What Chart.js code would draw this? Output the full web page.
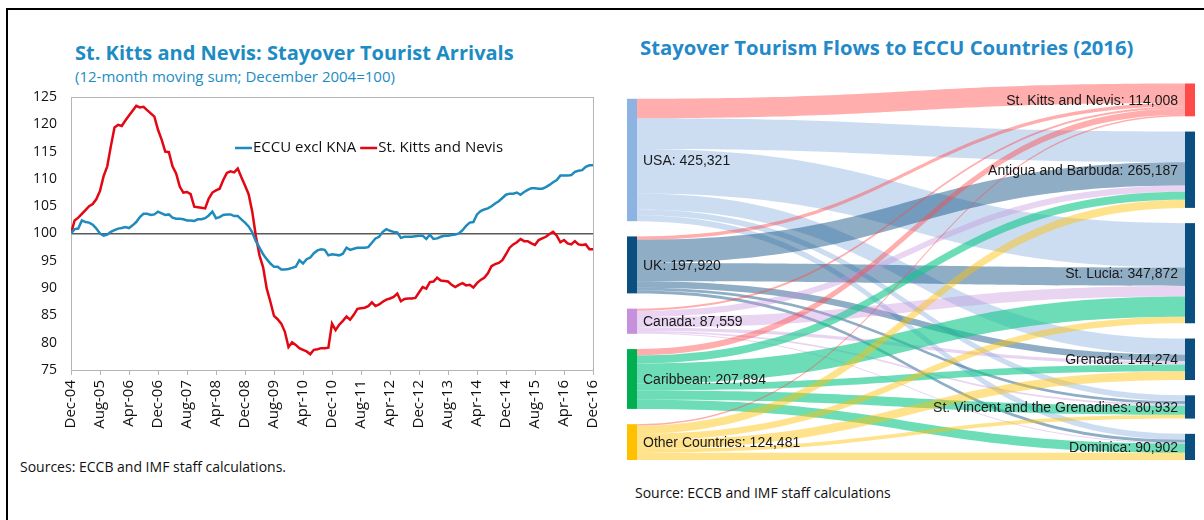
<!DOCTYPE html>
<html>
<head>
<meta charset="utf-8">
<script src="https://cdn.jsdelivr.net/npm/chart.js@4.4.1/dist/chart.umd.min.js"></script>
<style>
  html, body { margin: 0; padding: 0; background: #fff; }
  body { width: 1204px; height: 520px; position: relative; overflow: hidden; font-family: "Open Sans", "Noto Sans", sans-serif; }
  .frame { position: absolute; left: 6px; top: 8px; width: 1210px; height: 530px; border-left: 2px solid #000; border-top: 2px solid #000; }
  canvas { position: absolute; top: 0; }
  .txt { position: absolute; white-space: nowrap; }
  #t1 { left: 75px; top: 40px; font-size: 20px; line-height: 26px; font-weight: 700; color: #1c8cc3; }
  #s1 { left: 75px; top: 67px; font-size: 15px; line-height: 18px; color: #1c8cc3; }
  #t2 { left: 640px; top: 34px; font-size: 20.3px; line-height: 26px; font-weight: 700; color: #2389c9; }
  #src1 { left: 20px; top: 458px; font-size: 14px; line-height: 18px; color: #111; }
  #src2 { left: 635px; top: 484px; font-size: 14px; line-height: 18px; color: #111; }
</style>
</head>
<body>
<div class="frame"></div>
<div class="txt" id="t1">St. Kitts and Nevis: Stayover Tourist Arrivals</div>
<div class="txt" id="s1">(12-month moving sum; December 2004=100)</div>
<div class="txt" id="t2">Stayover Tourism Flows to ECCU Countries (2016)</div>
<div class="txt" id="src1">Sources: ECCB and IMF staff calculations.</div>
<div class="txt" id="src2">Source: ECCB and IMF staff calculations</div>
<canvas id="lineChart" width="600" height="520" style="left:0"></canvas>
<canvas id="flowChart" width="604" height="520" style="left:600px"></canvas>
<script>
// ---------- Stayover arrivals index (monthly, Dec-04 .. Dec-16) ----------
const xTickLabels = ['Dec-04','Aug-05','Apr-06','Dec-06','Aug-07','Apr-08','Dec-08','Aug-09','Apr-10',
  'Dec-10','Aug-11','Apr-12','Dec-12','Aug-13','Apr-14','Dec-14','Aug-15','Apr-16','Dec-16'];
const monthsPerTick = 8;

const eccuExclKna = [
  100.0,100.8,100.9,102.4,102.1,102.0,101.6,100.9,100.0,99.6,99.8,100.3,100.6,100.9,101.0,101.2,
  101.0,101.5,102.1,103.0,103.6,103.6,103.4,103.5,104.0,103.7,103.4,103.5,102.9,102.7,102.7,102.6,
  102.4,102.4,102.3,102.6,102.6,102.8,103.3,104.0,102.8,103.0,103.4,103.5,103.5,103.2,103.2,102.6,
  102.0,101.3,100.2,98.6,97.4,96.2,95.3,94.5,93.9,93.9,93.4,93.4,93.5,93.7,93.9,95.1,
  94.5,95.3,95.6,96.4,96.9,97.1,97.0,96.0,96.2,96.1,96.0,96.3,97.4,97.0,97.2,97.4,
  97.4,97.4,97.5,98.3,99.1,99.4,100.3,100.8,100.5,100.3,100.2,99.2,99.4,99.4,99.4,99.5,
  99.6,99.6,99.0,99.8,99.0,99.1,99.4,99.6,99.6,99.7,99.8,100.0,100.6,101.4,102.0,102.1,
  103.5,104.1,104.4,104.6,105.0,105.5,105.9,106.5,107.1,107.3,107.3,107.5,107.1,107.6,108.0,108.3,
  108.3,108.2,108.2,108.5,108.9,109.4,109.8,110.6,110.6,110.6,110.7,111.3,111.5,111.6,112.2,112.5,
  112.5
];

const stKittsNevis = [
  100.0,102.4,102.9,103.6,104.3,105.0,105.4,106.3,107.8,110.5,112.3,116.0,119.4,119.9,119.7,120.7,
  121.6,122.5,123.4,123.1,123.2,122.6,122.0,121.4,119.0,117.2,115.0,114.9,112.3,111.0,108.6,107.5,
  107.6,107.2,104.9,104.8,104.7,104.6,106.4,107.5,107.9,108.2,109.8,111.1,111.4,111.2,111.9,110.3,
  108.8,107.2,104.0,99.5,96.0,93.8,89.9,87.5,84.9,84.3,83.5,82.0,79.2,80.1,79.6,79.0,
  78.7,78.4,77.9,78.7,78.8,79.0,79.0,79.1,83.5,82.3,83.3,84.0,84.8,84.2,85.1,86.2,
  86.3,86.4,86.7,87.4,86.7,87.0,87.5,87.9,88.1,88.4,89.0,87.6,88.0,88.1,88.1,88.2,
  89.2,90.2,89.9,91.1,91.2,91.9,91.4,91.3,91.2,90.6,90.2,90.6,90.9,90.5,90.6,90.1,
  90.9,91.5,91.9,92.7,94.0,94.4,94.6,95.1,96.2,97.4,98.0,98.4,99.0,98.6,98.6,98.2,
  97.9,98.8,99.1,99.4,99.9,100.3,99.6,98.4,98.8,98.2,98.0,98.6,98.0,97.9,98.0,97.1,
  97.1
];

const seriesNames = ['ECCU excl KNA', 'St. Kitts and Nevis'];
const seriesColors = ['#1f8bbd', '#e30613'];
const baseIndex = 100;

// ---------- Stayover flows 2016 (source market -> destination) ----------
const sourceNames = ['USA', 'UK', 'Canada', 'Caribbean', 'Other Countries'];
const sourceTotals = [425321, 197920, 87559, 207894, 124481];
const targetNames = ['St. Kitts and Nevis', 'Antigua and Barbuda', 'St. Lucia', 'Grenada',
  'St. Vincent and the Grenadines', 'Dominica'];
const targetTotals = [114008, 265187, 347872, 144274, 80932, 90902];
// rows: sources, columns: destinations
const flowsFromUSA       = [68008, 107000, 154000, 56000, 20000, 20313];
const flowsFromUK        = [12000,  80000,  64000, 22000, 10000,  9920];
const flowsFromCanada    = [ 7000,  22000,  37000, 12000,  6000,  3559];
const flowsFromCaribbean = [22000,  28000,  70000, 24000, 32000, 31894];
const flowsFromOther     = [ 5000,  28187,  22872, 30274, 12932, 25216];
const flowMatrix = [flowsFromUSA, flowsFromUK, flowsFromCanada, flowsFromCaribbean, flowsFromOther];

const sourceNodeColors = ['#8db3e2', '#0b4f80', '#c690dc', '#00b050', '#ffc000'];
const sourceFlowColors = ['rgba(141,179,226,0.45)', 'rgba(11,79,128,0.46)', 'rgba(198,144,220,0.38)',
  'rgba(20,200,140,0.62)', 'rgba(255,192,0,0.45)'];
const targetNodeColors = ['#ff4a4a', '#0b4f80', '#0b4f80', '#0b4f80', '#0b4f80', '#0b4f80'];
const highlightTarget = 0;
const highlightFlowColor = 'rgba(255,74,74,0.45)';

const uiFont = '"Open Sans", "Noto Sans", sans-serif';

// ---------- line chart ----------
const framePlugin = {
  id: 'plotFrame',
  beforeDatasetsDraw(chart) {
    const { ctx, chartArea: a } = chart;
    ctx.save();
    ctx.strokeStyle = '#b5b5b5';
    ctx.lineWidth = 1;
    ctx.strokeRect(Math.round(a.left) + 0.5, Math.round(a.top) + 0.5,
      Math.round(a.right - a.left), Math.round(a.bottom - a.top));
    ctx.restore();
  }
};

const inlineLegend = {
  id: 'inlineLegend',
  afterDraw(chart) {
    const { ctx } = chart;
    ctx.save();
    ctx.font = '15px ' + uiFont;
    ctx.textBaseline = 'middle';
    let x = 235;
    const yPos = 148;
    chart.data.datasets.forEach(ds => {
      ctx.strokeStyle = ds.borderColor;
      ctx.lineWidth = 2.5;
      ctx.beginPath();
      ctx.moveTo(x, yPos); ctx.lineTo(x + 17, yPos);
      ctx.stroke();
      x += 18;
      ctx.fillStyle = '#111';
      ctx.fillText(ds.label, x, yPos);
      x += ctx.measureText(ds.label).width + 4;
    });
    ctx.restore();
  }
};

new Chart(document.getElementById('lineChart'), {
  type: 'line',
  data: {
    datasets: [
      { label: seriesNames[0], data: eccuExclKna.map((v, i) => ({ x: i, y: v })),
        borderColor: seriesColors[0], borderWidth: 2.5, pointRadius: 0, tension: 0 },
      { label: seriesNames[1], data: stKittsNevis.map((v, i) => ({ x: i, y: v })),
        borderColor: seriesColors[1], borderWidth: 2.5, pointRadius: 0, tension: 0 }
    ]
  },
  options: {
    responsive: false,
    animation: false,
    devicePixelRatio: 1,
    layout: { padding: { top: 97, right: 7, bottom: 0, left: 0 } },
    plugins: { legend: { display: false }, tooltip: { enabled: false } },
    scales: {
      x: {
        type: 'linear', min: 0, max: (xTickLabels.length - 1) * monthsPerTick,
        afterFit: s => { s.height = 150; s.paddingLeft = 0; s.paddingRight = 0; },
        grid: { drawOnChartArea: false, drawTicks: true, tickLength: 5, color: '#b5b5b5' },
        border: { display: true, color: '#b5b5b5' },
        ticks: {
          stepSize: monthsPerTick, autoSkip: false, maxRotation: 90, minRotation: 90, padding: 5,
          color: '#111', font: { family: uiFont, size: 15 },
          callback: v => xTickLabels[Math.round(v / monthsPerTick)]
        }
      },
      y: {
        min: 75, max: 125,
        afterFit: s => { s.width = 71; s.paddingTop = 0; s.paddingBottom = 0; },
        grid: {
          drawTicks: false,
          color: c => (c.tick && c.tick.value === baseIndex) ? '#595959' : 'rgba(0,0,0,0)',
          lineWidth: c => (c.tick && c.tick.value === baseIndex) ? 1.5 : 0
        },
        border: { display: true, color: '#b5b5b5' },
        ticks: { stepSize: 5, padding: 14, color: '#111', font: { family: uiFont, size: 14 } }
      }
    }
  },
  plugins: [framePlugin, inlineLegend]
});

// ---------- sankey-style flow chart ----------
const nodeGap = 53000;      // vertical spacing between nodes, in visitor units
const nodeWidthPx = 10;
const grandTotal = targetTotals.reduce((a, b) => a + b, 0);
const fmt = n => n.toLocaleString('en-US');

const flowPlugin = {
  id: 'flowDiagram',
  afterDatasetsDraw(chart) {
    const { ctx, scales: { x, y } } = chart;
    // node tops (value units), columns bottom-aligned
    const srcTop = [];
    let acc = (targetNames.length - sourceNames.length) * nodeGap;
    sourceTotals.forEach(v => { srcTop.push(acc); acc += v + nodeGap; });
    const tgtTop = [];
    acc = 0;
    targetTotals.forEach(v => { tgtTop.push(acc); acc += v + nodeGap; });

    // link offsets: at sources ordered by destination, at destinations ordered by source
    const srcOff = flowMatrix.map(() => []);
    flowMatrix.forEach((row, s) => {
      let c = srcTop[s];
      row.forEach((v, t) => { srcOff[s][t] = c; c += v; });
    });
    const tgtOff = flowMatrix.map(() => []);
    targetNames.forEach((_, t) => {
      let c = tgtTop[t];
      flowMatrix.forEach((row, s) => { tgtOff[s][t] = c; c += row[t]; });
    });

    const x0 = x.getPixelForValue(0) + nodeWidthPx;
    const x1 = x.getPixelForValue(1) - nodeWidthPx;
    const xm = (x0 + x1) / 2;

    ctx.save();
    flowMatrix.forEach((row, s) => {
      row.forEach((v, t) => {
        const a0 = y.getPixelForValue(srcOff[s][t]);
        const a1 = y.getPixelForValue(srcOff[s][t] + v);
        const b0 = y.getPixelForValue(tgtOff[s][t]);
        const b1 = y.getPixelForValue(tgtOff[s][t] + v);
        ctx.fillStyle = t === highlightTarget ? highlightFlowColor : sourceFlowColors[s];
        ctx.beginPath();
        ctx.moveTo(x0, a0);
        ctx.bezierCurveTo(xm, a0, xm, b0, x1, b0);
        ctx.lineTo(x1, b1);
        ctx.bezierCurveTo(xm, b1, xm, a1, x0, a1);
        ctx.closePath();
        ctx.fill();
      });
    });

    // nodes
    sourceTotals.forEach((v, s) => {
      const top = y.getPixelForValue(srcTop[s]);
      const bot = y.getPixelForValue(srcTop[s] + v);
      ctx.fillStyle = sourceNodeColors[s];
      ctx.fillRect(x0 - nodeWidthPx, top, nodeWidthPx, bot - top);
    });
    targetTotals.forEach((v, t) => {
      const top = y.getPixelForValue(tgtTop[t]);
      const bot = y.getPixelForValue(tgtTop[t] + v);
      ctx.fillStyle = targetNodeColors[t];
      ctx.fillRect(x1, top, nodeWidthPx, bot - top);
    });

    // labels
    ctx.font = '14px "Liberation Sans", Arial, sans-serif';
    ctx.fillStyle = '#1a1a1a';
    ctx.textBaseline = 'middle';
    ctx.textAlign = 'left';
    sourceTotals.forEach((v, s) => {
      const mid = y.getPixelForValue(srcTop[s] + v / 2);
      ctx.fillText(sourceNames[s] + ': ' + fmt(v), x0 + 6, mid + 1);
    });
    ctx.textAlign = 'right';
    targetTotals.forEach((v, t) => {
      const mid = y.getPixelForValue(tgtTop[t] + v / 2);
      ctx.fillText(targetNames[t] + ': ' + fmt(v), x1 - 7, mid + 1);
    });
    ctx.restore();
  }
};

new Chart(document.getElementById('flowChart'), {
  type: 'scatter',
  data: { datasets: [{ label: 'flows', data: [] }] },
  options: {
    responsive: false,
    animation: false,
    devicePixelRatio: 1,
    layout: { padding: { top: 83.5, right: 9, bottom: 60, left: 27 } },
    plugins: { legend: { display: false }, tooltip: { enabled: false } },
    scales: {
      x: { type: 'linear', min: 0, max: 1, display: false },
      y: { type: 'linear', min: 0, max: grandTotal + (targetNames.length - 1) * nodeGap,
           reverse: true, display: false }
    }
  },
  plugins: [flowPlugin]
});
</script>
</body>
</html>
